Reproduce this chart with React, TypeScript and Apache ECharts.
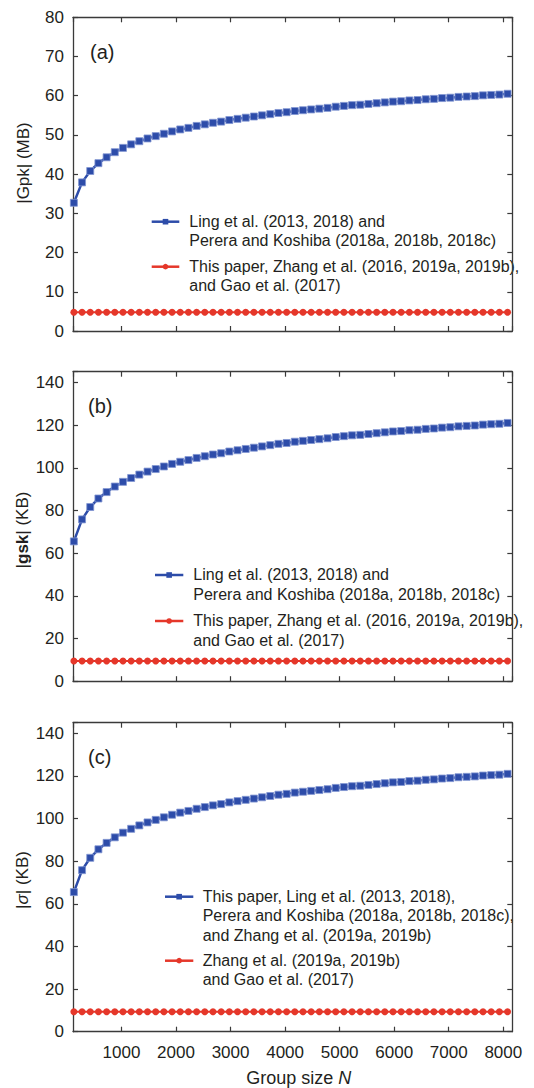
import React, { useEffect, useRef } from "react";
import * as echarts from "echarts";

// ---------------- DATA ----------------
const groupSize = [
  128, 278, 428, 578, 728, 878, 1028, 1178, 1328,
  1478, 1628, 1778, 1928, 2078, 2228, 2378, 2528, 2678,
  2828, 2978, 3128, 3278, 3428, 3578, 3728, 3878, 4028,
  4178, 4328, 4478, 4628, 4778, 4928, 5078, 5228, 5378,
  5528, 5678, 5828, 5978, 6128, 6278, 6428, 6578, 6728,
  6878, 7028, 7178, 7328, 7478, 7628, 7778, 7928, 8078,
];

// (a) |Gpk| (MB)
const gpkBlue = [
  32.7, 37.9, 40.8, 42.8, 44.3, 45.6, 46.7, 47.6, 48.4,
  49.1, 49.7, 50.3, 50.9, 51.4, 51.8, 52.3, 52.7, 53.1,
  53.4, 53.8, 54.1, 54.4, 54.7, 55.0, 55.3, 55.6, 55.8,
  56.1, 56.3, 56.5, 56.7, 56.9, 57.2, 57.4, 57.6, 57.7,
  57.9, 58.1, 58.3, 58.5, 58.6, 58.8, 58.9, 59.1, 59.2,
  59.4, 59.5, 59.7, 59.8, 59.9, 60.1, 60.2, 60.3, 60.5,
];
const gpkRed = [
  4.8, 4.8, 4.8, 4.8, 4.8, 4.8, 4.8, 4.8, 4.8,
  4.8, 4.8, 4.8, 4.8, 4.8, 4.8, 4.8, 4.8, 4.8,
  4.8, 4.8, 4.8, 4.8, 4.8, 4.8, 4.8, 4.8, 4.8,
  4.8, 4.8, 4.8, 4.8, 4.8, 4.8, 4.8, 4.8, 4.8,
  4.8, 4.8, 4.8, 4.8, 4.8, 4.8, 4.8, 4.8, 4.8,
  4.8, 4.8, 4.8, 4.8, 4.8, 4.8, 4.8, 4.8, 4.8,
];

// (b) |gsk| (KB)
const gskBlue = [
  65.5, 75.8, 81.6, 85.6, 88.6, 91.2, 93.4, 95.2, 96.8,
  98.2, 99.4, 100.6, 101.8, 102.8, 103.6, 104.6, 105.4, 106.2,
  106.8, 107.6, 108.2, 108.8, 109.4, 110.0, 110.6, 111.2, 111.6,
  112.2, 112.6, 113.0, 113.4, 113.8, 114.4, 114.8, 115.2, 115.4,
  115.8, 116.2, 116.6, 117.0, 117.2, 117.6, 117.8, 118.2, 118.4,
  118.8, 119.0, 119.4, 119.6, 119.8, 120.2, 120.4, 120.6, 121.0,
];
const gskRed = [
  9.5, 9.5, 9.5, 9.5, 9.5, 9.5, 9.5, 9.5, 9.5,
  9.5, 9.5, 9.5, 9.5, 9.5, 9.5, 9.5, 9.5, 9.5,
  9.5, 9.5, 9.5, 9.5, 9.5, 9.5, 9.5, 9.5, 9.5,
  9.5, 9.5, 9.5, 9.5, 9.5, 9.5, 9.5, 9.5, 9.5,
  9.5, 9.5, 9.5, 9.5, 9.5, 9.5, 9.5, 9.5, 9.5,
  9.5, 9.5, 9.5, 9.5, 9.5, 9.5, 9.5, 9.5, 9.5,
];

// (c) |sigma| (KB)
const sigmaBlue = [
  65.5, 75.8, 81.6, 85.6, 88.6, 91.2, 93.4, 95.2, 96.8,
  98.2, 99.4, 100.6, 101.8, 102.8, 103.6, 104.6, 105.4, 106.2,
  106.8, 107.6, 108.2, 108.8, 109.4, 110.0, 110.6, 111.2, 111.6,
  112.2, 112.6, 113.0, 113.4, 113.8, 114.4, 114.8, 115.2, 115.4,
  115.8, 116.2, 116.6, 117.0, 117.2, 117.6, 117.8, 118.2, 118.4,
  118.8, 119.0, 119.4, 119.6, 119.8, 120.2, 120.4, 120.6, 121.0,
];
const sigmaRed = [
  9.4, 9.4, 9.4, 9.4, 9.4, 9.4, 9.4, 9.4, 9.4,
  9.4, 9.4, 9.4, 9.4, 9.4, 9.4, 9.4, 9.4, 9.4,
  9.4, 9.4, 9.4, 9.4, 9.4, 9.4, 9.4, 9.4, 9.4,
  9.4, 9.4, 9.4, 9.4, 9.4, 9.4, 9.4, 9.4, 9.4,
  9.4, 9.4, 9.4, 9.4, 9.4, 9.4, 9.4, 9.4, 9.4,
  9.4, 9.4, 9.4, 9.4, 9.4, 9.4, 9.4, 9.4, 9.4,
];

const legendA = [
  "Ling et al. (2013, 2018) and\nPerera and Koshiba (2018a, 2018b, 2018c)",
  "This paper, Zhang et al. (2016, 2019a, 2019b),\nand Gao et al. (2017)",
];
const legendB = [
  "Ling et al. (2013, 2018) and\nPerera and Koshiba (2018a, 2018b, 2018c)",
  "This paper, Zhang et al. (2016, 2019a, 2019b),\nand Gao et al. (2017)",
];
const legendC = [
  "This paper, Ling et al. (2013, 2018),\nPerera and Koshiba (2018a, 2018b, 2018c),\nand Zhang et al. (2019a, 2019b)",
  "Zhang et al. (2019a, 2019b)\nand Gao et al. (2017)",
];

// ---------------- STYLE ----------------
const FONT = "'Liberation Sans', Arial, Helvetica, sans-serif";
const BLUE = "#2d4ca9";
const RED = "#e5372a";
const AX = "#3a3a3a";
const TXT = "#231f20";
const X_MIN = 112;
const X_MAX = 8165;

const grids = [
  { left: 73, width: 439.3, top: 17.3, height: 313.7 },
  { left: 73, width: 439.3, top: 371.7, height: 309.5 },
  { left: 73, width: 439.3, top: 722.7, height: 309 },
];

function xAxes(gi: number, showLabels: boolean) {
  const common = {
    type: "value",
    gridIndex: gi,
    min: X_MIN,
    max: X_MAX,
    splitNumber: 8,
    minInterval: 1000,
    maxInterval: 1000,
    splitLine: { show: false },
    axisLine: { show: true, onZero: false, lineStyle: { color: AX, width: 1.3 } },
    axisTick: { show: true, inside: true, length: 5, lineStyle: { color: AX, width: 1.2 } },
  };
  return [
    {
      ...common,
      position: "bottom",
      axisLabel: {
        show: showLabels,
        margin: 12,
        fontSize: 17,
        fontFamily: FONT,
        color: TXT,
        showMinLabel: false,
        showMaxLabel: false,
        formatter: (v: number) => (v % 1000 === 0 && v > 0 ? String(v) : ""),
      },
    },
    { ...common, position: "top", axisLabel: { show: false } },
  ];
}

function yAxes(gi: number, max: number, interval: number) {
  const common = {
    type: "value",
    gridIndex: gi,
    min: 0,
    max,
    interval,
    splitLine: { show: false },
    axisLine: { show: true, onZero: false, lineStyle: { color: AX, width: 1.3 } },
    axisTick: { show: true, inside: true, length: 5, lineStyle: { color: AX, width: 1.2 } },
  };
  return [
    {
      ...common,
      position: "left",
      axisLabel: {
        show: true,
        margin: 9,
        fontSize: 17,
        fontFamily: FONT,
        color: TXT,
        formatter: (v: number) => (v % interval === 0 ? String(v) : ""),
      },
    },
    { ...common, position: "right", axisLabel: { show: false } },
  ];
}

function seriesPair(gi: number, blue: number[], red: number[], names: string[]) {
  return [
    {
      name: names[0],
      type: "line",
      xAxisIndex: gi * 2,
      yAxisIndex: gi * 2,
      data: groupSize.map((n, i) => [n, blue[i]]),
      symbol: "rect",
      symbolSize: 7,
      clip: false,
      lineStyle: { color: BLUE, width: 2.5 },
      itemStyle: { color: BLUE, borderColor: "#8196d2", borderWidth: 0.8 },
    },
    {
      name: names[1],
      type: "line",
      xAxisIndex: gi * 2,
      yAxisIndex: gi * 2,
      data: groupSize.map((n, i) => [n, red[i]]),
      symbol: "circle",
      symbolSize: 7,
      clip: false,
      lineStyle: { color: RED, width: 2 },
      itemStyle: { color: RED },
    },
  ];
}

function legend(x1: number, x2: number, tx: number, yBlue: number, yRed: number, texts: string[]) {
  const lh = 19.2;
  const els: any[] = [];
  const cx = (x1 + x2) / 2;
  els.push({ type: "line", shape: { x1, y1: yBlue, x2, y2: yBlue }, style: { stroke: BLUE, lineWidth: 2.5 } });
  els.push({ type: "rect", shape: { x: cx - 2.8, y: yBlue - 2.8, width: 5.6, height: 5.6 }, style: { fill: BLUE } });
  els.push({
    type: "text", x: tx, y: yBlue - lh / 2,
    style: { text: texts[0], fill: TXT, fontSize: 16, fontFamily: FONT, lineHeight: lh, align: "left", verticalAlign: "top" },
  });
  els.push({ type: "line", shape: { x1, y1: yRed, x2, y2: yRed }, style: { stroke: RED, lineWidth: 2.5 } });
  els.push({ type: "circle", shape: { cx, cy: yRed, r: 2.8 }, style: { fill: RED } });
  els.push({
    type: "text", x: tx, y: yRed - lh / 2,
    style: { text: texts[1], fill: TXT, fontSize: 16, fontFamily: FONT, lineHeight: lh, align: "left", verticalAlign: "top" },
  });
  return els;
}

function yName(x: number, y: number, text: string, rich?: any) {
  return {
    type: "text", x, y, rotation: Math.PI / 2,
    style: { text, fill: TXT, fontSize: 17, fontFamily: FONT, align: "center", verticalAlign: "middle", rich },
  };
}

function panelLabel(x: number, y: number, text: string) {
  return {
    type: "text", x, y,
    style: { text, fill: TXT, fontSize: 20, fontFamily: FONT, align: "left", verticalAlign: "middle" },
  };
}

export default function App() {
  const ref = useRef<HTMLDivElement>(null);
  useEffect(() => {
    if (!ref.current) return;
    const chart = echarts.init(ref.current, null, { renderer: "svg" });
    const option: any = {
      animation: false,
      backgroundColor: "#ffffff",
      grid: grids,
      xAxis: [...xAxes(0, false), ...xAxes(1, false), ...xAxes(2, true)],
      yAxis: [...yAxes(0, 80, 10), ...yAxes(1, 145, 20), ...yAxes(2, 145, 20)],
      series: [
        ...seriesPair(0, gpkBlue, gpkRed, legendA),
        ...seriesPair(1, gskBlue, gskRed, legendB),
        ...seriesPair(2, sigmaBlue, sigmaRed, legendC),
      ],
      graphic: [
        panelLabel(90, 51.7, "(a)"),
        panelLabel(88, 405.7, "(b)"),
        panelLabel(88, 756.7, "(c)"),
        yName(23, 163, "|Gpk| (MB)"),
        yName(22, 530, "|{b|gsk}| (KB)", { b: { fontWeight: "bold", fontSize: 17, fontFamily: FONT, fill: TXT } }),
        yName(22, 880, "|{i|σ}| (KB)", { i: { fontStyle: "italic", fontSize: 17, fontFamily: FONT, fill: TXT } }),
        {
          type: "text", x: 298.7, y: 1078,
          style: {
            text: "Group size {i|N}", fill: TXT, fontSize: 18, fontFamily: FONT, align: "center", verticalAlign: "middle",
            rich: { i: { fontStyle: "italic", fontSize: 18, fontFamily: FONT, fill: TXT } },
          },
        },
        ...legend(151.7, 179.3, 189.3, 221.7, 266.7, legendA),
        ...legend(155, 183.3, 193.3, 575, 621, legendB),
        ...legend(165, 193.3, 202.7, 896.7, 960.7, legendC),
      ],
    };
    chart.setOption(option);
    return () => chart.dispose();
  }, []);
  return (
    <div
      ref={ref}
      style={{ position: "fixed", left: 0, top: 0, width: 534, height: 1088, background: "#fff" }}
    />
  );
}
